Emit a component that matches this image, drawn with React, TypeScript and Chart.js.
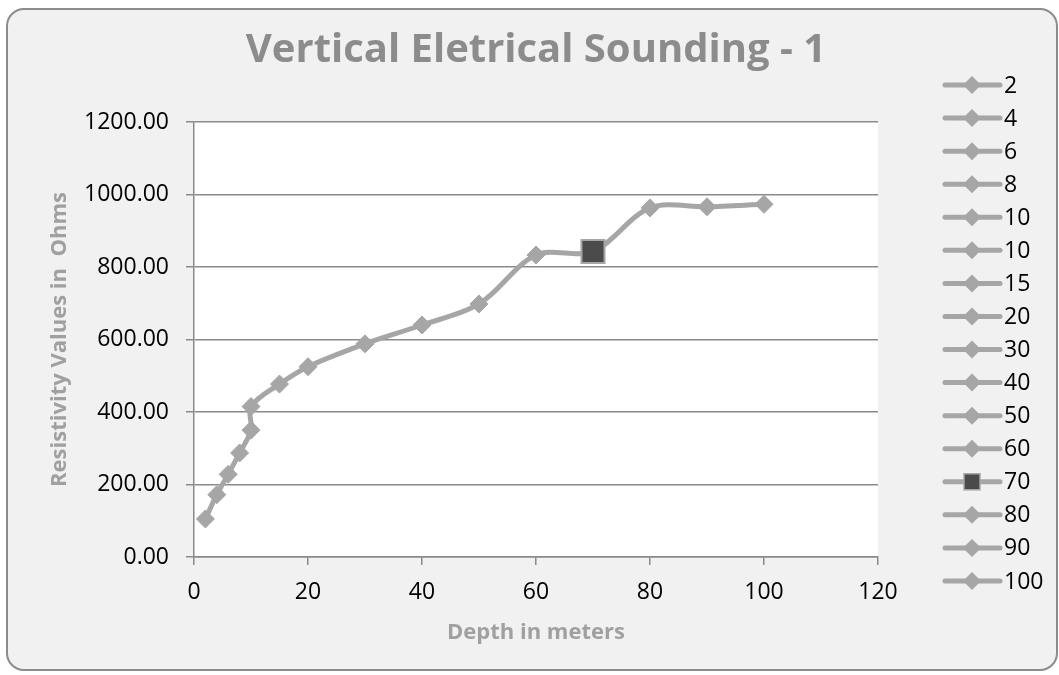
import { useEffect, useRef } from "react";
import { Chart, registerables } from "chart.js";

Chart.register(...registerables);

const TITLE = "Vertical Eletrical Sounding - 1";
const X_TITLE = "Depth in meters";
const Y_TITLE = "Resistivity Values in  Ohms";

const depths = [2, 4, 6, 8, 10, 10, 15, 20, 30, 40, 50, 60, 70, 80, 90, 100];
const resistivity = [105, 172, 228, 287, 350, 415, 477, 525, 588, 640, 698, 833, 843, 963, 966, 973];
const legendLabels = depths.map((d) => String(d));
const xTicks = [0, 20, 40, 60, 80, 100, 120];
const yTicks = [0, 200, 400, 600, 800, 1000, 1200];
const HIGHLIGHT_INDEX = 12;

const W = 1059;
const H = 675;
const PLOT = { left: 194, right: 878, top: 122, bottom: 557 };
const LINE_GRAY = "#a6a6a6";
const DARK = "#4b4b4b";
const AXIS_GRAY = "#8a8a8a";
const FONT = "'Open Sans', 'Liberation Sans', sans-serif";

const plotBg = {
  id: "plotBg",
  beforeDraw(chart: any) {
    const { ctx, chartArea: a } = chart;
    ctx.save();
    ctx.fillStyle = "#ffffff";
    ctx.fillRect(a.left, a.top, a.right - a.left, a.bottom - a.top);
    ctx.restore();
  },
};

const sideLegend = {
  id: "sideLegend",
  afterDraw(chart: any) {
    const ctx = chart.ctx;
    const top = 85;
    const bottom = 581;
    const step = (bottom - top) / (legendLabels.length - 1);
    const x0 = 945;
    const x1 = 1000;
    const mx = 972;
    const tx = 1004;
    legendLabels.forEach((lab, i) => {
      const y = top + i * step;
      ctx.save();
      ctx.strokeStyle = LINE_GRAY;
      ctx.lineWidth = 5;
      ctx.lineCap = "round";
      ctx.beginPath();
      ctx.moveTo(x0, y);
      ctx.lineTo(x1, y);
      ctx.stroke();
      if (i === HIGHLIGHT_INDEX) {
        ctx.fillStyle = DARK;
        ctx.fillRect(mx - 8, y - 8, 16, 16);
        ctx.strokeStyle = LINE_GRAY;
        ctx.lineWidth = 1.5;
        ctx.strokeRect(mx - 8, y - 8, 16, 16);
      } else {
        ctx.fillStyle = LINE_GRAY;
        ctx.beginPath();
        ctx.moveTo(mx, y - 9);
        ctx.lineTo(mx + 9, y);
        ctx.lineTo(mx, y + 9);
        ctx.lineTo(mx - 9, y);
        ctx.closePath();
        ctx.fill();
      }
      ctx.fillStyle = "#000000";
      ctx.font = `23px ${FONT}`;
      ctx.textBaseline = "middle";
      ctx.textAlign = "left";
      ctx.fillText(lab, tx, y + 1);
      ctx.restore();
    });
  },
};

export default function App() {
  const ref = useRef<HTMLCanvasElement | null>(null);

  useEffect(() => {
    if (!ref.current) return;
    const titleSize = 40;
    const titleLH = titleSize * 1.2;
    const titleTop = 51 - titleLH / 2;
    const axisTitleSize = 22;
    const chart = new Chart(ref.current, {
      type: "scatter",
      data: {
        datasets: [
          {
            data: depths.map((d, i) => ({ x: d, y: resistivity[i] })),
            showLine: true,
            borderColor: LINE_GRAY,
            borderWidth: 5,
            tension: 0.33,
            pointStyle: depths.map((_, i) => (i === HIGHLIGHT_INDEX ? "rect" : "rectRot")) as any,
            pointRadius: depths.map((_, i) => (i === HIGHLIGHT_INDEX ? 16.3 : 9)),
            pointBackgroundColor: depths.map((_, i) => (i === HIGHLIGHT_INDEX ? DARK : LINE_GRAY)),
            pointBorderColor: LINE_GRAY,
            pointBorderWidth: depths.map((_, i) => (i === HIGHLIGHT_INDEX ? 2 : 1)),
          },
        ],
      },
      options: {
        responsive: false,
        animation: false,
        events: [],
        layout: { padding: { left: 0, top: 0, right: W - PLOT.right, bottom: 0 } },
        plugins: {
          legend: { display: false },
          tooltip: { enabled: false },
          title: {
            display: true,
            fullSize: false,
            text: TITLE,
            color: "#8c8c8c",
            font: { family: FONT, size: titleSize, weight: "bold", lineHeight: 1.2 },
            padding: { top: titleTop, bottom: PLOT.top - titleTop - titleLH },
          },
        },
        scales: {
          x: {
            type: "linear",
            min: xTicks[0],
            max: xTicks[xTicks.length - 1],
            afterBuildTicks: (s: any) => {
              s.ticks = xTicks.map((v) => ({ value: v }));
            },
            ticks: {
              color: "#000000",
              font: { family: FONT, size: 23 },
              padding: 14,
              maxRotation: 0,
              callback: (v: any) => String(v),
            },
            grid: { drawOnChartArea: false, drawTicks: true, tickLength: 8, color: AXIS_GRAY, lineWidth: 1.5 },
            border: { display: true, color: AXIS_GRAY, width: 1.5 },
            title: {
              display: true,
              text: X_TITLE,
              color: "#a0a0a0",
              font: { family: FONT, size: axisTitleSize, weight: "bold", lineHeight: 1.2 },
              padding: { top: 0, bottom: H - 633 - (axisTitleSize * 1.2) / 2 },
            },
            afterFit: (s: any) => {
              s.height = H - PLOT.bottom;
            },
          },
          y: {
            type: "linear",
            min: yTicks[0],
            max: yTicks[yTicks.length - 1],
            afterBuildTicks: (s: any) => {
              s.ticks = yTicks.map((v) => ({ value: v }));
            },
            ticks: {
              color: "#000000",
              font: { family: FONT, size: 23 },
              padding: 17,
              callback: (v: any) => Number(v).toFixed(2),
            },
            grid: { color: AXIS_GRAY, lineWidth: 1.5, drawTicks: true, tickLength: 8 },
            border: { display: true, color: AXIS_GRAY, width: 1.5 },
            title: {
              display: true,
              text: Y_TITLE,
              color: "#a0a0a0",
              font: { family: FONT, size: axisTitleSize, weight: "bold", lineHeight: 1.2 },
              padding: { top: 60 - (axisTitleSize * 1.2) / 2, bottom: 0 },
            },
            afterFit: (s: any) => {
              s.width = PLOT.left;
            },
          },
        },
      },
      plugins: [plotBg, sideLegend],
    });
    return () => chart.destroy();
  }, []);

  return (
    <div style={{ position: "absolute", left: 0, top: 0, width: W, height: H, overflow: "hidden" }}>
      <div
        style={{
          position: "absolute",
          left: 6,
          top: 8,
          width: 1052,
          height: 663,
          boxSizing: "border-box",
          border: "2px solid #8c8c8c",
          borderRadius: 18,
          background: "#f1f1f1",
        }}
      />
      <canvas ref={ref} width={W} height={H} style={{ position: "absolute", left: 0, top: 0, width: W, height: H }} />
    </div>
  );
}
